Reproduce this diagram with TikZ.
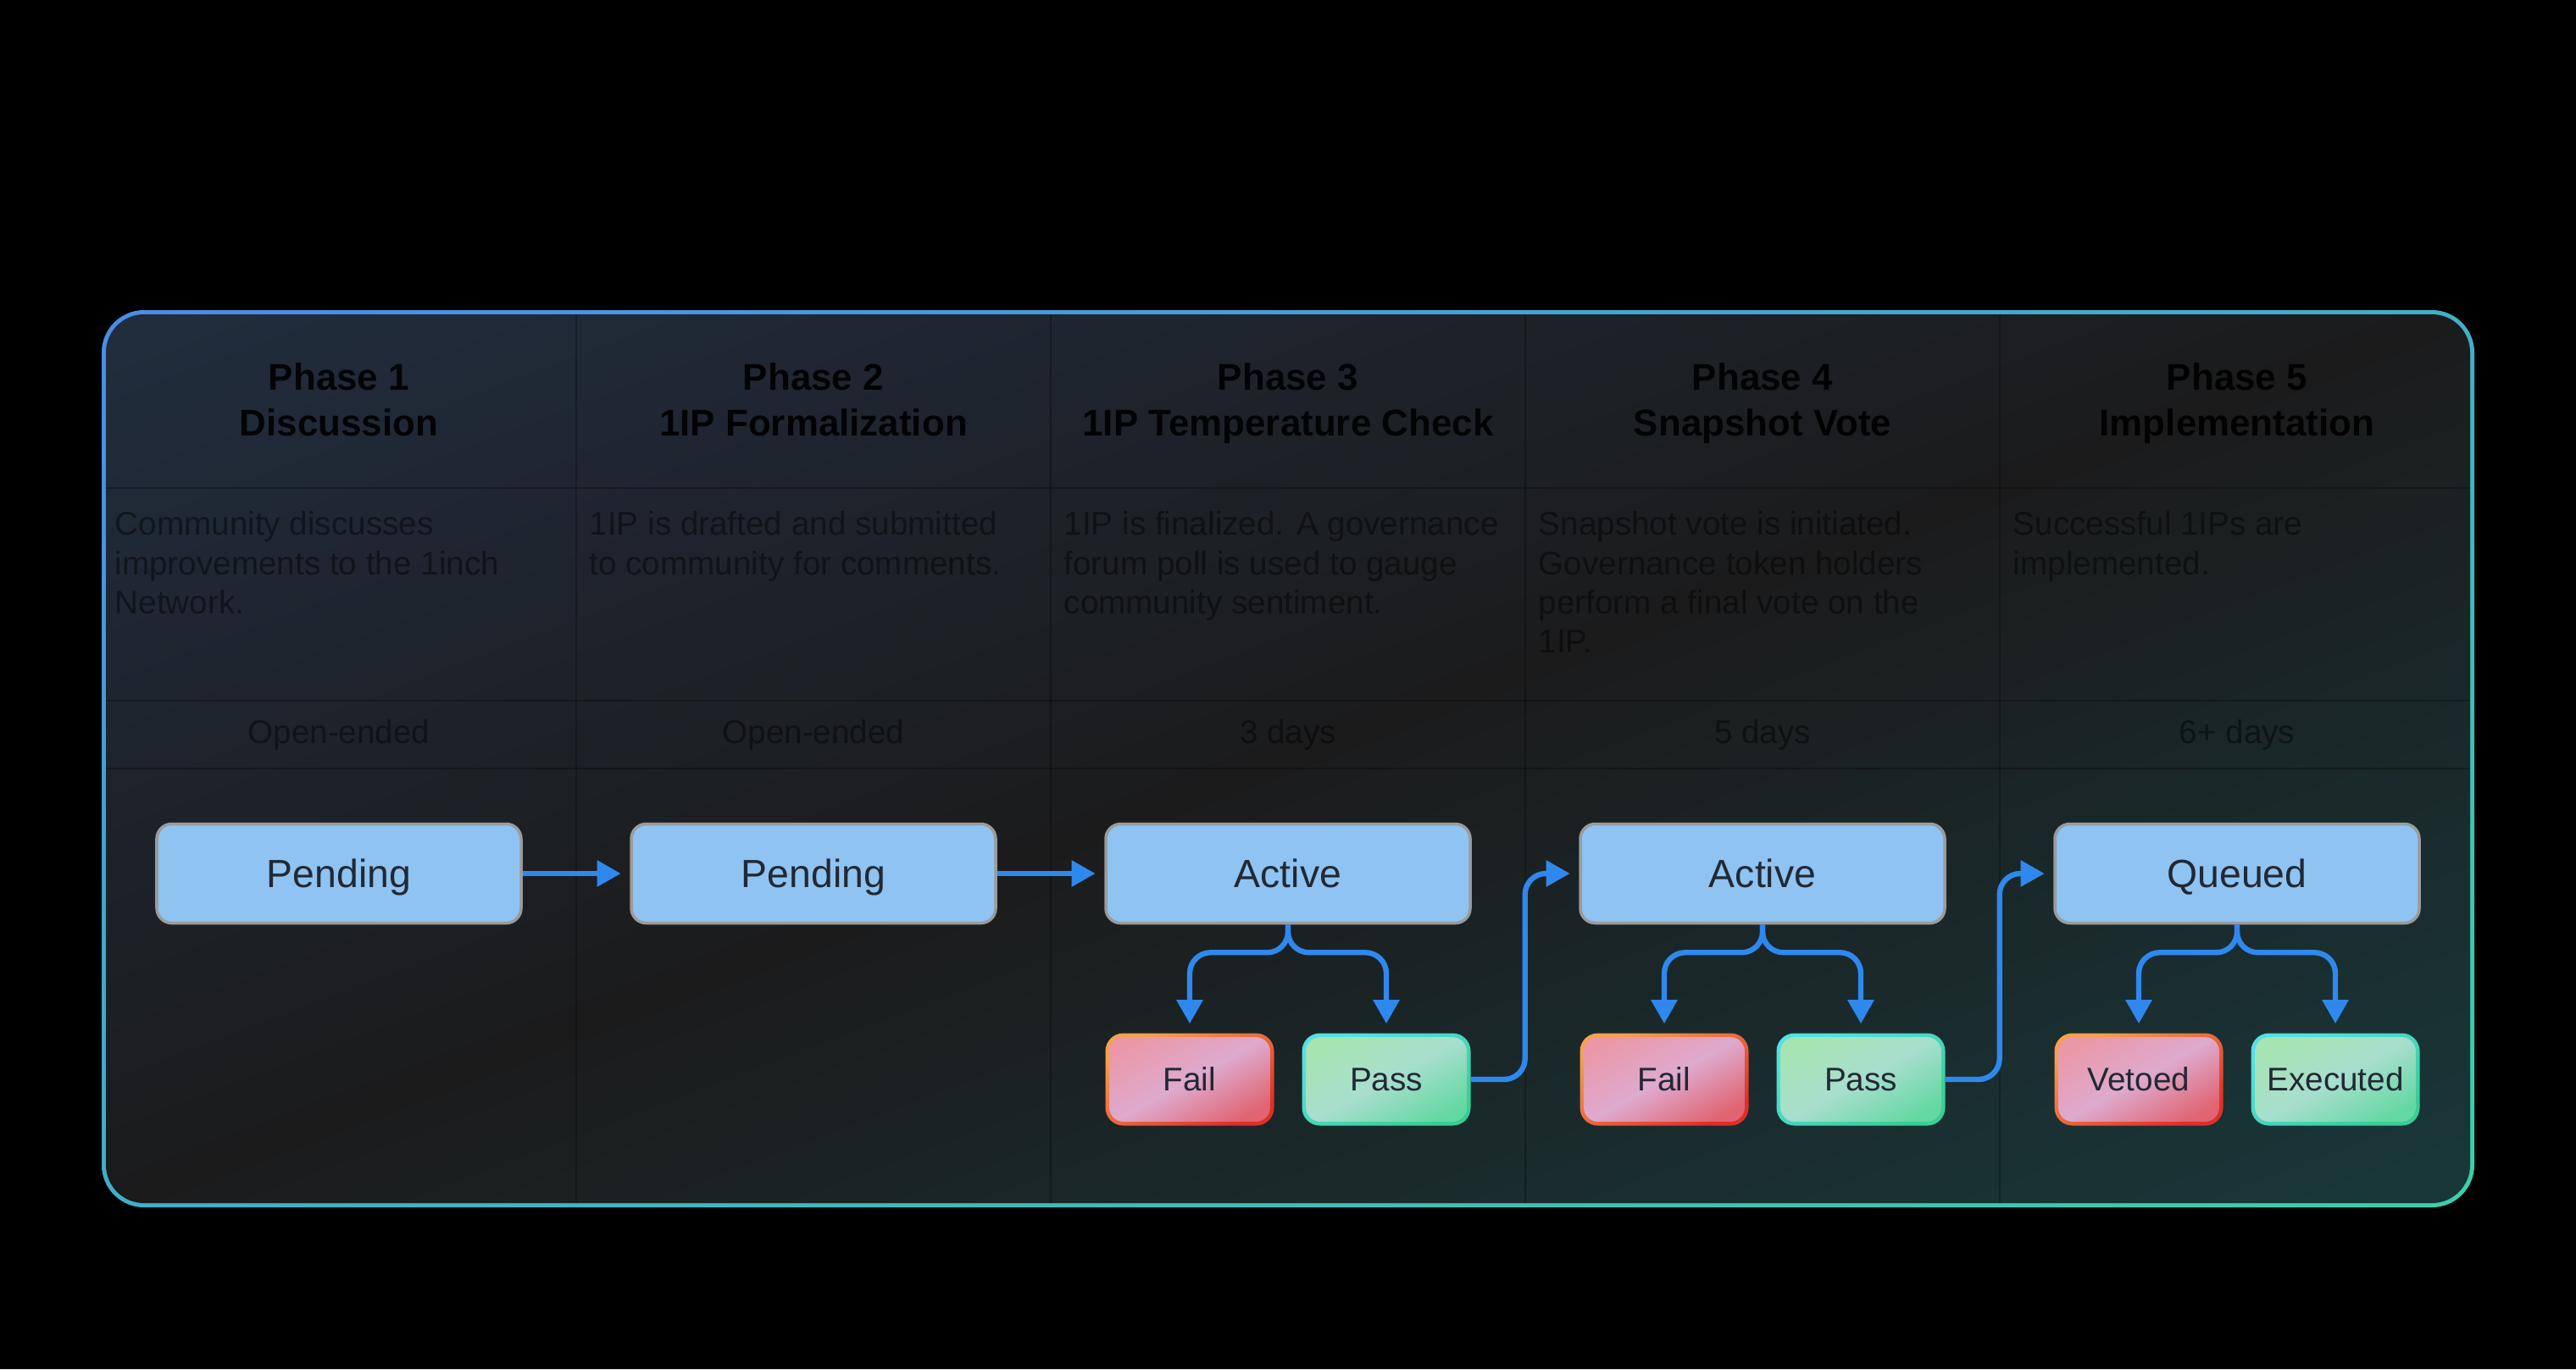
\documentclass[tikz,border=0pt]{standalone}
\usepackage{fontspec}
\setmainfont{Liberation Sans}
\usetikzlibrary{arrows.meta,calc,positioning}
\definecolor{bgNavy}{RGB}{33,45,62}
\definecolor{bgMid}{RGB}{27,27,28}
\definecolor{bgTeal}{RGB}{25,56,58}
\definecolor{frameBlue}{RGB}{74,140,230}
\definecolor{frameTeal}{RGB}{56,210,170}
\definecolor{arrowBlue}{RGB}{47,136,238}
\definecolor{stateBlue}{RGB}{142,195,242}
\definecolor{stateGray}{RGB}{155,155,155}
\definecolor{stateText}{RGB}{34,40,52}
\definecolor{failPink}{RGB}{234,152,168}
\definecolor{failLilac}{RGB}{222,170,206}
\definecolor{failRed}{RGB}{224,100,114}
\definecolor{failOrange}{RGB}{244,160,80}
\definecolor{failCrimson}{RGB}{222,48,40}
\definecolor{passMint}{RGB}{166,228,178}
\definecolor{passSea}{RGB}{168,222,206}
\definecolor{passGreen}{RGB}{100,216,162}
\definecolor{passCyan}{RGB}{84,224,228}
\definecolor{passJade}{RGB}{56,206,150}
\tikzset{
  govState/.style={draw=stateGray, line width=1pt, rounded corners=5pt, fill=stateBlue, text=stateText, minimum width=4.30cm, minimum height=1.17cm, text height=11.5pt, text depth=2pt, font=\fontsize{13.2}{16}\selectfont},
  govOutcome/.style={rounded corners=6pt, text=stateText, minimum width=1.99cm, minimum height=1.09cm, text height=9.9pt, text depth=2pt, font=\fontsize{11}{13}\selectfont},
  govInner/.style={rounded corners=4.8pt, shading angle=29},
  govFail/.style={govOutcome, top color=failOrange, bottom color=failCrimson, shading angle=29,
    path picture={\shade[top color=failPink, bottom color=failRed, middle color=failLilac, govInner] ([shift={(1.3pt,1.3pt)}]path picture bounding box.south west) rectangle ([shift={(-1.3pt,-1.3pt)}]path picture bounding box.north east);}},
  govPass/.style={govOutcome, top color=passCyan, bottom color=passJade, shading angle=29,
    path picture={\shade[top color=passMint, bottom color=passGreen, middle color=passSea, govInner] ([shift={(1.3pt,1.3pt)}]path picture bounding box.south west) rectangle ([shift={(-1.3pt,-1.3pt)}]path picture bounding box.north east);}},
  govPhase/.style={align=center, anchor=north, inner sep=0pt, text=black, text opacity=0.9, font=\bfseries\fontsize{12.5}{15.4}\selectfont},
  govText/.style={align=left, anchor=north west, inner sep=0pt, text=black, text opacity=0.45, font=\fontsize{11}{13.2}\selectfont},
  govSpan/.style={text=black, text opacity=0.45, font=\fontsize{11}{13.2}\selectfont},
  govArrow/.style={-{Triangle[length=8pt,width=8.5pt]}, line width=1.8pt, draw=arrowBlue, shorten >=3pt, rounded corners=7pt},
  govRule/.style={black, opacity=0.25, line width=0.6pt}
}
\begin{document}
\begin{tikzpicture}
  % canvas and frame
  \fill[black] (0,0) rectangle (30.40,-16.16);
  \begin{scope}
    \clip[rounded corners=0.5cm] (1.20,-3.66) rectangle (29.20,-14.25);
    \shade[transform canvas={shift={(15.20,-8.955)}, rotate=20.7}, top color=frameBlue, bottom color=frameTeal] (-15.6,-10.0) rectangle (15.6,10.0);
  \end{scope}
  \begin{scope}
    \clip[rounded corners=0.45cm] (1.25,-3.71) rectangle (29.15,-14.20);
    \shade[transform canvas={shift={(15.20,-8.955)}, rotate=20.7}, top color=bgNavy, bottom color=bgTeal, middle color=bgMid] (-15.5,-9.9) rectangle (15.5,9.9);
  \end{scope}
  \draw[govRule] (6.80,-3.71) -- (6.80,-14.20);
  \draw[govRule] (12.40,-3.71) -- (12.40,-14.20);
  \draw[govRule] (18.00,-3.71) -- (18.00,-14.20);
  \draw[govRule] (23.60,-3.71) -- (23.60,-14.20);
  \draw[govRule] (1.25,-5.76) -- (29.15,-5.76);
  \draw[govRule] (1.25,-8.27) -- (29.15,-8.27);
  \draw[govRule] (1.25,-9.07) -- (29.15,-9.07);

  % phase headers
  \node[govPhase] (phase1) at (4.00,-4.28) {Phase 1\\Discussion};
  \node[govPhase] (phase2) at (9.60,-4.28) {Phase 2\\1IP Formalization};
  \node[govPhase] (phase3) at (15.20,-4.28) {Phase 3\\1IP Temperature Check};
  \node[govPhase] (phase4) at (20.80,-4.28) {Phase 4\\Snapshot Vote};
  \node[govPhase] (phase5) at (26.40,-4.28) {Phase 5\\Implementation};

  % descriptions
  \node[govText] (note1) at (1.35,-6.03) {Community discusses\\improvements to the 1inch\\Network.};
  \node[govText] (note2) at (6.95,-6.03) {1IP is drafted and submitted\\to community for comments.};
  \node[govText] (note3) at (12.55,-6.03) {1IP is finalized. A governance\\forum poll is used to gauge\\community sentiment.};
  \node[govText] (note4) at (18.15,-6.03) {Snapshot vote is initiated.\\Governance token holders\\perform a final vote on the\\1IP.};
  \node[govText] (note5) at (23.75,-6.03) {Successful 1IPs are\\implemented.};

  % durations
  \node[govSpan] (span1) at (4.00,-8.67) {Open-ended};
  \node[govSpan] (span2) at (9.60,-8.67) {Open-ended};
  \node[govSpan] (span3) at (15.20,-8.67) {3 days};
  \node[govSpan] (span4) at (20.80,-8.67) {5 days};
  \node[govSpan] (span5) at (26.40,-8.67) {6+ days};

  % states
  \node[govState] (pend1) at (4.00,-10.31) {Pending};
  \node[govState] (pend2) at (9.60,-10.31) {Pending};
  \node[govState] (act3) at (15.20,-10.31) {Active};
  \node[govState] (act4) at (20.80,-10.31) {Active};
  \node[govState] (queue5) at (26.40,-10.31) {Queued};

  \node[govFail] (fail3) at (14.04,-12.74) {Fail};
  \node[govPass] (pass3) at (16.36,-12.74) {Pass};
  \node[govFail] (fail4) at (19.64,-12.74) {Fail};
  \node[govPass] (pass4) at (21.96,-12.74) {Pass};
  \node[govFail] (veto5) at (25.24,-12.74) {Vetoed};
  \node[govPass] (exec5) at (27.56,-12.74) {Executed};

  \coordinate (jump3) at ($(pass3.east)!0.5!(act4.west)$);
  \coordinate (jump4) at ($(pass4.east)!0.5!(queue5.west)$);

  % connectors
  \draw[govArrow] (pend1) -- (pend2);
  \draw[govArrow] (pend2) -- (act3);
  \draw[govArrow] (act3.south) -- ++(0,-0.33) -| (fail3.north);
  \draw[govArrow] (act3.south) -- ++(0,-0.33) -| (pass3.north);
  \draw[govArrow] (pass3.east) -| (jump3 |- act4.west) -- (act4.west);
  \draw[govArrow] (act4.south) -- ++(0,-0.33) -| (fail4.north);
  \draw[govArrow] (act4.south) -- ++(0,-0.33) -| (pass4.north);
  \draw[govArrow] (pass4.east) -| (jump4 |- queue5.west) -- (queue5.west);
  \draw[govArrow] (queue5.south) -- ++(0,-0.33) -| (veto5.north);
  \draw[govArrow] (queue5.south) -- ++(0,-0.33) -| (exec5.north);
\end{tikzpicture}
\end{document}
